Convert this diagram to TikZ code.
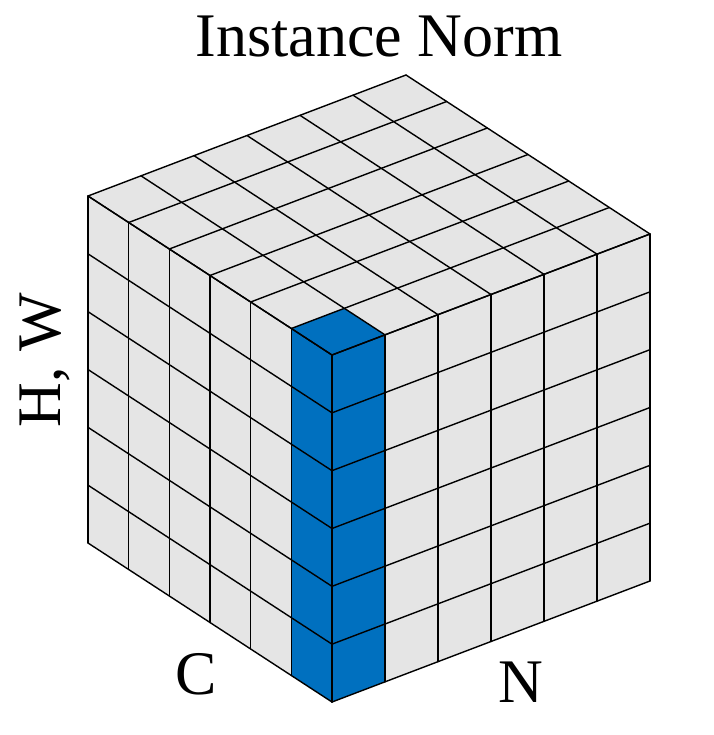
\documentclass[tikz,border=0pt]{standalone}
\usepackage{fontspec}
\setmainfont{Liberation Serif}
\definecolor{cellgray}{HTML}{E5E5E5}
\definecolor{cellblue}{HTML}{0070BF}
\begin{document}
\begin{tikzpicture}[
  gridline/.style={draw=black, line width=1.4pt, line join=round, line cap=round},
  lbl/.style={font=\fontsize{62}{70}\selectfont, inner sep=0pt, anchor=base}
]
\useasboundingbox (0pt,0pt) rectangle (713pt,-735pt);
\node[lbl] (title) at (379pt,-57pt) {Instance Norm};
\node[lbl] (clbl) at (196pt,-694pt) {C};
\node[lbl] (nlbl) at (521pt,-702pt) {N};
\node[lbl, rotate=90] (hwlbl) at (60pt,-360pt) {H, W};
\begin{scope}[shift={(332pt,-702pt)}, x={(-40.667pt,26.5pt)}, y={(0pt,57.833pt)}, z={(53pt,20.167pt)}]
  % faces
  \fill[cellgray] (0,0,0) -- (6,0,0) -- (6,6,0) -- (0,6,0) -- cycle;
  \fill[cellgray] (0,0,0) -- (0,0,6) -- (0,6,6) -- (0,6,0) -- cycle;
  \fill[cellgray] (0,6,0) -- (6,6,0) -- (6,6,6) -- (0,6,6) -- cycle;
  % highlighted column
  \fill[cellblue] (0,0,0) -- (1,0,0) -- (1,6,0) -- (0,6,0) -- cycle;
  \fill[cellblue] (0,0,0) -- (0,0,1) -- (0,6,1) -- (0,6,0) -- cycle;
  \fill[cellblue] (0,6,0) -- (1,6,0) -- (1,6,1) -- (0,6,1) -- cycle;
  % grid lines
  \foreach \t in {0,...,6} {
    \draw[gridline] (\t,0,0) -- (\t,6,0);
    \draw[gridline] (0,\t,0) -- (6,\t,0);
    \draw[gridline] (0,0,\t) -- (0,6,\t);
    \draw[gridline] (0,\t,0) -- (0,\t,6);
    \draw[gridline] (\t,6,0) -- (\t,6,6);
    \draw[gridline] (0,6,\t) -- (6,6,\t);
  }
\end{scope}
\end{tikzpicture}
\end{document}
